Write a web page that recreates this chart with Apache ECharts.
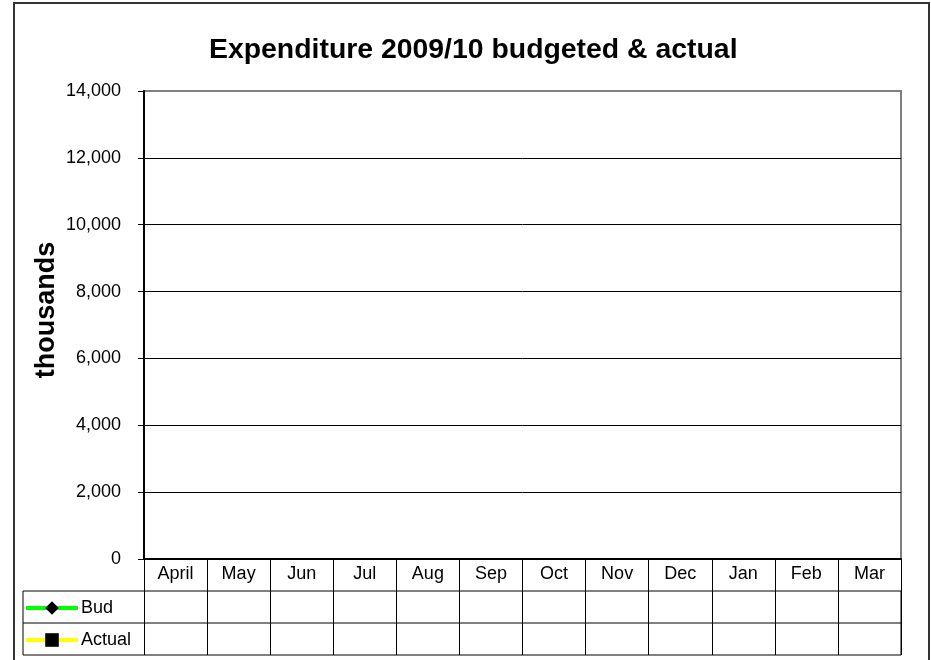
<!DOCTYPE html>
<html>
<head>
<meta charset="utf-8">
<script src="https://cdn.jsdelivr.net/npm/echarts@6/dist/echarts.min.js"></script>
<style>
  html, body { margin: 0; padding: 0; background: #fff; }
  #chart { width: 931px; height: 660px; }
</style>
</head>
<body>
<div id="chart"></div>
<script>
  // categories and values (the chart shows no plotted values)
  const months = ['April', 'May', 'Jun', 'Jul', 'Aug', 'Sep', 'Oct', 'Nov', 'Dec', 'Jan', 'Feb', 'Mar']
  const budValues = [null, null, null, null, null, null, null, null, null, null, null, null]
  const actualValues = [null, null, null, null, null, null, null, null, null, null, null, null]
  const yTicks = [0, 2000, 4000, 6000, 8000, 10000, 12000, 14000]

  const W = 931, H = 660
  const gridL = 144, gridR = 30, gridT = 91, gridB = 101
  const rowH = 32
  const plotRight = W - gridR
  const axisY = H - gridB
  const tableLeft = 23

  const font = 'Liberation Sans, Arial, sans-serif'

  const myChart = echarts.init(document.getElementById('chart'))

  // grid lines black, top one grey like the plot border
  let splitColors = yTicks.map((v, i) => i === yTicks.length - 1 ? '#808080' : '#000')

  let option = {
    animation: false,
    backgroundColor: '#fff',
    textStyle: { fontFamily: font },
    title: {
      text: 'Expenditure 2009/10 budgeted & actual',
      left: 209,
      top: 36,
      padding: 0,
      textStyle: { fontSize: 28.4, fontWeight: 'bold', color: '#000', fontFamily: font }
    },
    grid: {
      left: gridL,
      right: gridR,
      top: gridT,
      bottom: gridB,
      show: true,
      borderColor: '#808080',
      borderWidth: 2
    },
    legend: {
      orient: 'vertical',
      left: 24,
      top: axisY + rowH + 8,
      padding: 0,
      itemWidth: 52,
      itemHeight: 17,
      itemGap: 14,
      selectedMode: false,
      lineStyle: { width: 4 },
      textStyle: { fontSize: 18, color: '#000', padding: [0, 0, 0, -2] },
      data: ['Bud', 'Actual']
    },
    xAxis: {
      type: 'category',
      data: months,
      boundaryGap: true,
      axisLine: { lineStyle: { color: '#000', width: 2 } },
      axisTick: {
        show: true,
        interval: 0,
        length: rowH * 3,
        lineStyle: { color: '#000', width: 1 }
      },
      axisLabel: { interval: 0, margin: 6, fontSize: 18, color: '#000', fontFamily: font },
      splitLine: { show: false }
    },
    yAxis: {
      type: 'value',
      min: yTicks[0],
      max: yTicks[yTicks.length - 1],
      interval: 2000,
      name: 'thousands',
      nameLocation: 'middle',
      nameGap: 84,
      nameMoveOverlap: false,
      nameTextStyle: {
        fontSize: 27,
        fontWeight: 'bold',
        color: '#000',
        fontFamily: font,
        padding: [0, 0, 0, 30]
      },
      axisLine: { show: true, lineStyle: { color: '#000', width: 2 } },
      axisTick: { show: true, length: 6, lineStyle: { color: '#000' } },
      axisLabel: {
        margin: 23,
        fontSize: 18,
        color: '#000',
        fontFamily: font,
        formatter: (v) => v.toLocaleString('en-US')
      },
      splitLine: { show: true, lineStyle: { color: splitColors, width: 1 } }
    },
    series: [{
      name: 'Bud',
      type: 'line',
      data: budValues,
      symbol: 'diamond',
      symbolSize: 13,
      itemStyle: { color: '#000' },
      lineStyle: { color: '#00ff00', width: 4 }
    }, {
      name: 'Actual',
      type: 'line',
      data: actualValues,
      symbol: 'rect',
      symbolSize: 12,
      itemStyle: { color: '#000' },
      lineStyle: { color: '#ffff00', width: 4 }
    }],
    graphic: [{
      // outer chart border
      type: 'rect',
      shape: { x: 14, y: 3, width: 915, height: H + 10 },
      style: { fill: null, stroke: '#333', lineWidth: 2 },
      silent: true
    }, {
      // legend rows of the data table
      type: 'rect',
      shape: { x: tableLeft, y: axisY + rowH, width: plotRight - tableLeft, height: rowH * 2 },
      style: { fill: null, stroke: '#000', lineWidth: 1 },
      silent: true
    }, {
      type: 'line',
      shape: { x1: tableLeft, y1: axisY + rowH * 2, x2: plotRight, y2: axisY + rowH * 2 },
      style: { stroke: '#000', lineWidth: 1 },
      silent: true
    }]
  }

  myChart.setOption(option)
</script>
</body>
</html>
